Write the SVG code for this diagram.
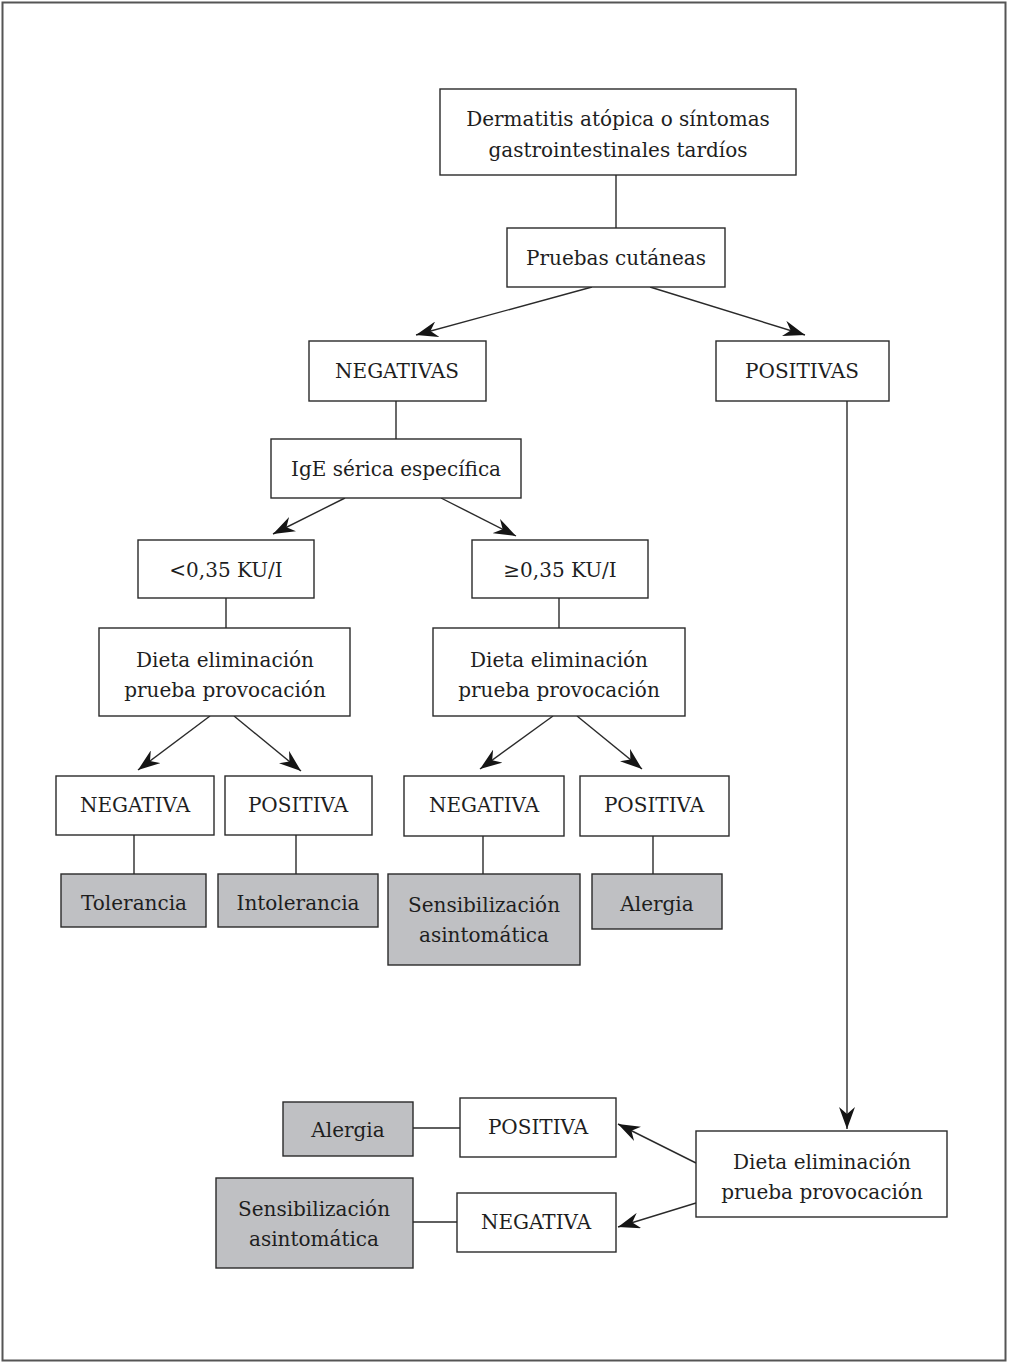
<svg xmlns="http://www.w3.org/2000/svg" width="1009" height="1364" viewBox="0 0 1009 1364">
<style>
.b{fill:#fff;stroke:#2a2a2a;stroke-width:1.4}
.g{fill:#bfc0c3;stroke:#2a2a2a;stroke-width:1.4}
.t{font-family:"DejaVu Serif","Liberation Serif",serif;font-size:20px;fill:#1e1e1e;text-anchor:middle}
.c line{stroke:#2a2a2a;stroke-width:1.4}
.a{marker-end:url(#ah)}
</style>
<defs>
<marker id="ah" markerUnits="userSpaceOnUse" markerWidth="24" markerHeight="16" refX="22" refY="8" orient="auto">
<path d="M0,0 L22,8 L0,16 L7,8 z" fill="#151515"/>
</marker>
</defs>
<rect x="2.5" y="2.5" width="1003" height="1358" fill="#fff" stroke="#555" stroke-width="2"/>
<g class="c" id="connectors">
<line x1="616" y1="175" x2="616" y2="228"/>
<line class="a" x1="592" y1="287" x2="416" y2="335"/>
<line class="a" x1="650" y1="287" x2="805" y2="335"/>
<line x1="396" y1="401" x2="396" y2="439"/>
<line class="a" x1="345" y1="498" x2="273" y2="534"/>
<line class="a" x1="441" y1="498" x2="516" y2="536"/>
<line x1="226" y1="598" x2="226" y2="628"/>
<line x1="559" y1="598" x2="559" y2="628"/>
<line class="a" x1="210" y1="716" x2="138" y2="770"/>
<line class="a" x1="234" y1="716" x2="301" y2="771"/>
<line class="a" x1="553" y1="716" x2="480" y2="769"/>
<line class="a" x1="577" y1="716" x2="642" y2="769"/>
<line x1="134" y1="835" x2="134" y2="874"/>
<line x1="296" y1="835" x2="296" y2="874"/>
<line x1="483" y1="836" x2="483" y2="874"/>
<line x1="653" y1="836" x2="653" y2="874"/>
<line class="a" x1="847" y1="401" x2="847" y2="1129"/>
<line class="a" x1="696" y1="1163" x2="618" y2="1124"/>
<line class="a" x1="696" y1="1203" x2="618" y2="1227"/>
<line x1="413" y1="1128" x2="460" y2="1128"/>
<line x1="413" y1="1222" x2="457" y2="1222"/>
</g>
<g id="n1"><rect class="b" x="440" y="89" width="356" height="86"/><text class="t" x="618" y="126">Dermatitis atópica o síntomas</text><text class="t" x="618" y="157">gastrointestinales tardíos</text></g>
<g id="n2"><rect class="b" x="507" y="228" width="218" height="59"/><text class="t" x="616" y="265">Pruebas cutáneas</text></g>
<g id="n3"><rect class="b" x="309" y="341" width="177" height="60"/><text class="t" x="397" y="378">NEGATIVAS</text></g>
<g id="n4"><rect class="b" x="716" y="341" width="173" height="60"/><text class="t" x="802" y="378">POSITIVAS</text></g>
<g id="n5"><rect class="b" x="271" y="439" width="250" height="59"/><text class="t" x="396" y="476">IgE sérica específica</text></g>
<g id="n6"><rect class="b" x="138" y="540" width="176" height="58"/><text class="t" x="226" y="577">&lt;0,35 KU/I</text></g>
<g id="n7"><rect class="b" x="472" y="540" width="176" height="58"/><text class="t" x="560" y="577">≥0,35 KU/I</text></g>
<g id="n8"><rect class="b" x="99" y="628" width="251" height="88"/><text class="t" x="225" y="667">Dieta eliminación</text><text class="t" x="225" y="697">prueba provocación</text></g>
<g id="n9"><rect class="b" x="433" y="628" width="252" height="88"/><text class="t" x="559" y="667">Dieta eliminación</text><text class="t" x="559" y="697">prueba provocación</text></g>
<g id="n10"><rect class="b" x="56" y="776" width="158" height="59"/><text class="t" x="135" y="812">NEGATIVA</text></g>
<g id="n11"><rect class="b" x="225" y="776" width="147" height="59"/><text class="t" x="298" y="812">POSITIVA</text></g>
<g id="n12"><rect class="b" x="404" y="776" width="160" height="60"/><text class="t" x="484" y="812">NEGATIVA</text></g>
<g id="n13"><rect class="b" x="580" y="776" width="149" height="60"/><text class="t" x="654" y="812">POSITIVA</text></g>
<g id="n14"><rect class="g" x="61" y="874" width="145" height="53"/><text class="t" x="134" y="910">Tolerancia</text></g>
<g id="n15"><rect class="g" x="218" y="874" width="160" height="53"/><text class="t" x="298" y="910">Intolerancia</text></g>
<g id="n16"><rect class="g" x="388" y="874" width="192" height="91"/><text class="t" x="484" y="912">Sensibilización</text><text class="t" x="484" y="942">asintomática</text></g>
<g id="n17"><rect class="g" x="592" y="874" width="130" height="55"/><text class="t" x="657" y="911">Alergia</text></g>
<g id="n18"><rect class="b" x="696" y="1131" width="251" height="86"/><text class="t" x="822" y="1169">Dieta eliminación</text><text class="t" x="822" y="1199">prueba provocación</text></g>
<g id="n19"><rect class="b" x="460" y="1098" width="156" height="59"/><text class="t" x="538" y="1134">POSITIVA</text></g>
<g id="n20"><rect class="b" x="457" y="1193" width="159" height="59"/><text class="t" x="536" y="1229">NEGATIVA</text></g>
<g id="n21"><rect class="g" x="283" y="1102" width="130" height="54"/><text class="t" x="348" y="1137">Alergia</text></g>
<g id="n22"><rect class="g" x="216" y="1178" width="197" height="90"/><text class="t" x="314" y="1216">Sensibilización</text><text class="t" x="314" y="1246">asintomática</text></g>
</svg>
